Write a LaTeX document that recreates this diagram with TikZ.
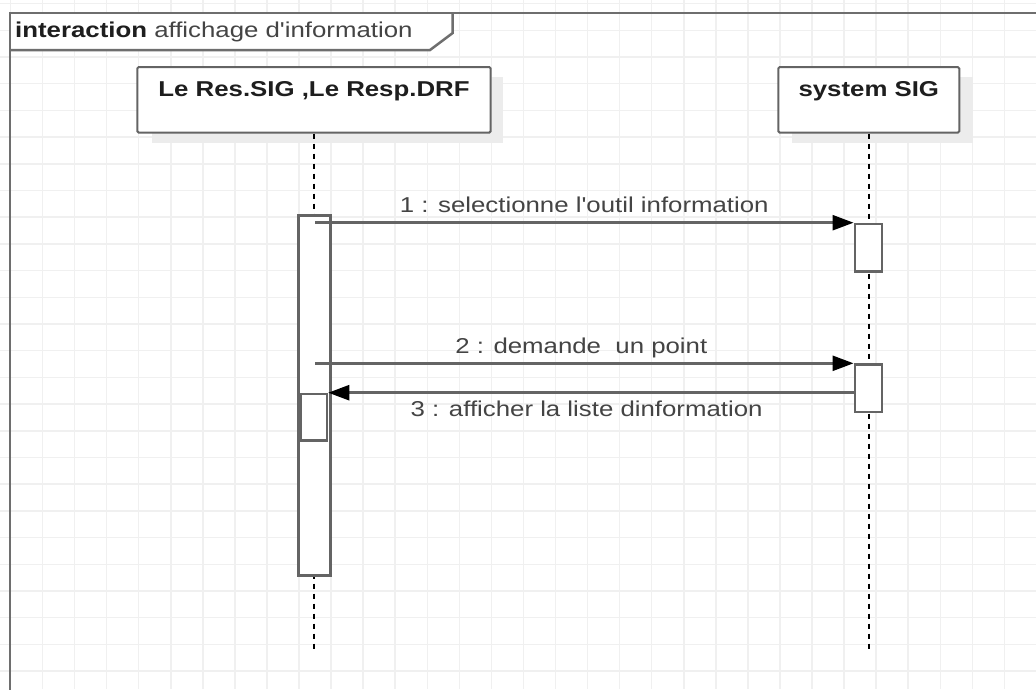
\documentclass[tikz,border=0pt]{standalone}
\usepackage{fontspec}
\usepackage{graphicx}
\setmainfont{Liberation Sans}
\usetikzlibrary{arrows.meta,calc}
\definecolor{gridc}{RGB}{240,240,240}
\definecolor{framec}{RGB}{110,110,110}
\definecolor{boxc}{RGB}{100,100,100}
\definecolor{shadowc}{RGB}{236,236,236}
\definecolor{msgc}{RGB}{100,100,100}
\definecolor{txtc}{RGB}{68,68,68}
\definecolor{darktxt}{RGB}{30,30,30}
\newcommand\hstr[1]{\scalebox{1.2}[1]{#1}}
\tikzset{
  lbl/.style={font=\fontsize{21.5}{26}\selectfont, inner sep=0pt},
  lifebox/.style={draw=boxc, fill=white, line width=2pt, rounded corners=1.5pt,
    inner sep=0pt, text height=29pt, text depth=36.7pt, text=darktxt,
    font=\fontsize{21.5}{26}\selectfont, anchor=north},
  lifeline/.style={draw=black, line width=2pt, dash pattern=on 5pt off 5pt},
  actbox/.style={draw=boxc, fill=white, line width=2.5pt, inner sep=0pt, anchor=north},
  msg/.style={draw=msgc, line width=2.5pt, -{Triangle[length=21pt,width=15pt,color=black]}},
  msglbl/.style={lbl, text=txtc, anchor=base},
  frameline/.style={draw=framec, line width=2.5pt},
  shadowbox/.style={fill=shadowc}
}
\begin{document}
\begin{tikzpicture}[x=1pt,y=-1pt]
\useasboundingbox (0,0) rectangle (1036,689);
\clip (0,0) rectangle (1036,689);
\fill[white] (0,0) rectangle (1036,689);
% grid
\foreach \i in {0,...,32} {
  \draw[gridc, line width=1.5pt] ({10.5+32.06*\i},0) -- ({10.5+32.06*\i},689);
}
\foreach \j in {0,...,26} {
  \draw[gridc, line width=1.5pt] (0,{3.6+26.7*\j}) -- (1036,{3.6+26.7*\j});
}
% frame
\fill[white] (10,13) -- (452.7,13) -- (452.7,33) -- (430,50) -- (10,50) -- cycle;
\draw[frameline] (1040,13) -- (10,13) -- (10,695);
\draw[frameline] (10,50) -- (430,50) -- (452.7,33) -- (452.7,13);
\node[lbl, anchor=base west, text=darktxt] (hd) at (15,37.3)
  {\hstr{\textbf{interaction} \textcolor{txtc}{affichage d\textquotesingle information}}};
% lifeline heads with shadows
\fill[shadowbox] (151.7,77) rectangle (503.3,143.3);
\fill[shadowbox] (792,77) rectangle (973.3,142.7);
\node[lifebox, minimum width=353.4pt] (lA) at (314,66) {\hstr{\textbf{Le Res.SIG ,Le Resp.DRF}}};
\node[lifebox, minimum width=181pt] (lB) at (868.8,66) {\hstr{\textbf{system SIG}}};
% lifelines
\coordinate (lAe) at (314,652);
\coordinate (lBe) at (868.8,652);
\draw[lifeline] (lA.south) -- (lAe);
\draw[lifeline] (lB.south) -- (lBe);
% activations
\node[actbox, minimum width=32pt, minimum height=360pt] (aA) at (314.5,214) {};
\node[actbox, minimum width=27pt, minimum height=47.3pt] (aB1) at (868.3,222.7) {};
\node[actbox, minimum width=27pt, minimum height=47.4pt] (aB2) at (868.3,363.3) {};
\node[actbox, minimum width=26pt, minimum height=46.3pt] (aA2) at (314,392.7) {};
% messages
\coordinate (m1s) at (315,222.7);
\coordinate (m2s) at (315,363.3);
\coordinate (m3s) at (855,392.7);
\draw[msg] (m1s) -- node[msglbl, yshift=10pt] {\hstr{1 : selectionne l\textquotesingle outil information}} (aB1.north west);
\draw[msg] (m2s) -- node[msglbl, yshift=10pt, xshift=-3pt] {\hstr{2 : demande\ \ un point}} (aB2.north west);
\draw[msg] (m3s) -- node[msglbl, yshift=-23.3pt, xshift=-5pt] {\hstr{3 : afficher la liste dinformation}} (aA2.north east);
\end{tikzpicture}
\end{document}
